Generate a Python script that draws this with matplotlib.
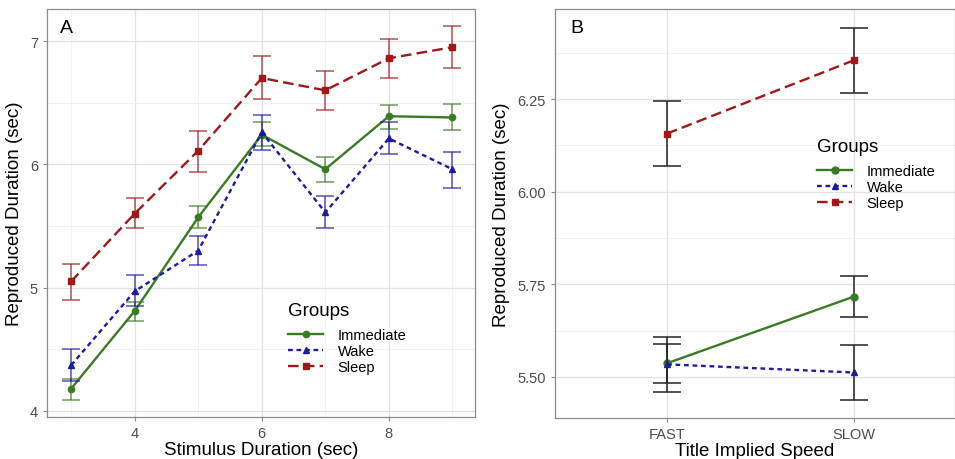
import matplotlib
matplotlib.use("Agg")
import matplotlib.pyplot as plt
from matplotlib.ticker import MultipleLocator

plt.rcParams['font.family'] = ['Liberation Sans', 'DejaVu Sans']

# panel A: reproduced duration per stimulus duration
stim = [3, 4, 5, 6, 7, 8, 9]
imm_mean = [4.18, 4.81, 5.57, 6.24, 5.96, 6.39, 6.38]
imm_lo = [4.09, 4.73, 5.48, 6.15, 5.86, 6.29, 6.28]
imm_hi = [4.26, 4.88, 5.66, 6.34, 6.06, 6.48, 6.49]
wake_mean = [4.37, 4.97, 5.30, 6.26, 5.61, 6.21, 5.96]
wake_lo = [4.24, 4.85, 5.18, 6.12, 5.48, 6.085, 5.81]
wake_hi = [4.50, 5.10, 5.42, 6.40, 5.74, 6.34, 6.10]
sleep_mean = [5.05, 5.60, 6.11, 6.70, 6.60, 6.86, 6.95]
sleep_lo = [4.90, 5.48, 5.94, 6.53, 6.44, 6.70, 6.78]
sleep_hi = [5.19, 5.73, 6.27, 6.875, 6.76, 7.02, 7.12]

# panel B: reproduced duration per title implied speed
speed = ["FAST", "SLOW"]
imm_b = [5.537, 5.717]
imm_b_lo = [5.483, 5.663]
imm_b_hi = [5.607, 5.772]
wake_b = [5.534, 5.512]
wake_b_lo = [5.46, 5.438]
wake_b_hi = [5.589, 5.585]
sleep_b = [6.157, 6.355]
sleep_b_lo = [6.07, 6.266]
sleep_b_hi = [6.246, 6.443]

green = "#3b7a24"
blue = "#1c1c9c"
red = "#9c1a1a"
styles = {
    "Immediate": dict(color=green, ls="-", marker="o"),
    "Wake": dict(color=blue, ls=(0, (2, 1.6)), marker="^"),
    "Sleep": dict(color=red, ls=(0, (4.5, 2.2)), marker="s"),
}

fig = plt.figure(figsize=(9.55, 4.6), dpi=100)
axA = fig.add_axes([0.0492, 0.0913, 0.4478, 0.8870])
axB = fig.add_axes([0.581, 0.089, 0.419, 0.889])


def style_axes(ax):
    ax.grid(True, which="major", color="#e3e3e3", lw=0.9)
    ax.grid(True, which="minor", color="#f0f0f0", lw=0.6)
    ax.set_axisbelow(True)
    for s in ax.spines.values():
        s.set_color("#8a8a8a")
        s.set_linewidth(0.9)
    ax.tick_params(which="major", colors="#8a8a8a", labelcolor="#4d4d4d",
                   labelsize=10.5, length=3)
    ax.tick_params(which="minor", length=0)


def add_legend(ax, anchor):
    leg = ax.legend(title="Groups", loc="upper left", bbox_to_anchor=anchor,
                    frameon=False, fontsize=10.5, title_fontsize=13.5,
                    handlelength=2.4, labelspacing=0.15, borderpad=0.2,
                    handletextpad=1.0)
    leg._legend_box.align = "left"
    leg._legend_box.sep = 6.5  # more room under the title, like ggplot
    return leg


# ---- panel A ----
groups_a = [("Immediate", imm_mean, imm_lo, imm_hi),
            ("Wake", wake_mean, wake_lo, wake_hi),
            ("Sleep", sleep_mean, sleep_lo, sleep_hi)]
for name, m, lo, hi in groups_a:
    st = styles[name]
    yerr = [[a - b for a, b in zip(m, lo)], [b - a for a, b in zip(m, hi)]]
    axA.errorbar(stim, m, yerr=yerr, fmt="none", ecolor=st["color"],
                 alpha=0.75, elinewidth=1.1, capsize=6.5, capthick=1.1)
    axA.plot(stim, m, color=st["color"], ls=st["ls"], lw=1.7,
             marker=st["marker"], ms=4.5, label=name)

axA.set_xlim(2.62, 9.35)
axA.set_ylim(3.95, 7.26)
axA.xaxis.set_major_locator(MultipleLocator(2))
axA.xaxis.set_minor_locator(MultipleLocator(1))
axA.yaxis.set_major_locator(MultipleLocator(1))
axA.yaxis.set_minor_locator(MultipleLocator(0.5))
style_axes(axA)
axA.set_xlabel("Stimulus Duration (sec)", fontsize=13.5, labelpad=1)
axA.set_ylabel("Reproduced Duration (sec)", fontsize=13.5, labelpad=5)
axA.text(0.03, 0.975, "A", transform=axA.transAxes, fontsize=14,
         va="top", ha="left")
add_legend(axA, (0.54, 0.307))

# ---- panel B ----
xb = [1, 2]
groups_b = [("Immediate", imm_b, imm_b_lo, imm_b_hi),
            ("Wake", wake_b, wake_b_lo, wake_b_hi),
            ("Sleep", sleep_b, sleep_b_lo, sleep_b_hi)]
for name, m, lo, hi in groups_b:
    st = styles[name]
    yerr = [[a - b for a, b in zip(m, lo)], [b - a for a, b in zip(m, hi)]]
    axB.errorbar(xb, m, yerr=yerr, fmt="none", ecolor="#222222",
                 elinewidth=1.1, capsize=10, capthick=1.1)
    axB.plot(xb, m, color=st["color"], ls=st["ls"], lw=1.7,
             marker=st["marker"], ms=5, label=name)

axB.set_xlim(0.4, 2.54)
axB.set_ylim(5.389, 6.493)
axB.set_xticks(xb)
axB.set_xticklabels(speed)
axB.yaxis.set_major_locator(MultipleLocator(0.25))
axB.yaxis.set_minor_locator(MultipleLocator(0.125))
axB.yaxis.set_major_formatter(matplotlib.ticker.FormatStrFormatter("%.2f"))
style_axes(axB)
axB.set_xlabel("Title Implied Speed", fontsize=13.5, labelpad=1)
axB.set_ylabel("Reproduced Duration (sec)", fontsize=13.5, labelpad=5)
axB.text(0.04, 0.975, "B", transform=axB.transAxes, fontsize=14,
         va="top", ha="left")
add_legend(axB, (0.63, 0.71))

fig.savefig("out.png", dpi=100)
